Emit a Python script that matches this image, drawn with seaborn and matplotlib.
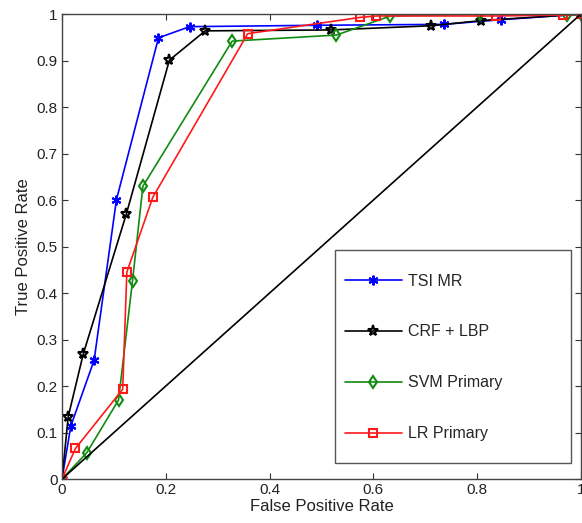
import matplotlib
matplotlib.use("Agg")
import matplotlib.pyplot as plt
from matplotlib.patches import Rectangle
import seaborn as sns
import pandas as pd

# ROC curve points (false positive rate, true positive rate) per method
tsi_fpr = [0.0, 0.017, 0.062, 0.105, 0.186, 0.246, 0.492, 0.736, 0.846, 1.0]
tsi_tpr = [0.0, 0.114, 0.256, 0.601, 0.949, 0.973, 0.976, 0.978, 0.988, 1.0]

crf_fpr = [0.0, 0.012, 0.041, 0.124, 0.207, 0.276, 0.519, 0.712, 0.807, 1.0]
crf_tpr = [0.0, 0.134, 0.269, 0.570, 0.901, 0.964, 0.966, 0.975, 0.986, 1.0]

svm_fpr = [0.0, 0.048, 0.109, 0.136, 0.156, 0.328, 0.529, 0.633, 0.805, 0.974, 1.0]
svm_tpr = [0.0, 0.057, 0.170, 0.427, 0.630, 0.942, 0.955, 0.996, 1.0, 0.998, 1.0]

lr_fpr = [0.0, 0.026, 0.117, 0.125, 0.175, 0.358, 0.575, 0.606, 0.836, 0.965, 1.0]
lr_tpr = [0.0, 0.066, 0.193, 0.445, 0.606, 0.958, 0.993, 0.996, 0.996, 0.998, 1.0]

labels = ["TSI MR", "CRF + LBP", "SVM Primary", "LR Primary"]
colors = ["#0000ff", "#000000", "#118a11", "#ff1a1a"]
# asterisk, hollow pentagram, hollow diamond, hollow square
markers = [(6, 2, 0), "*", "d", "s"]
marker_sizes = [7, 8, 6, 6]

sns.set_style("ticks")
plt.rcParams["font.family"] = ["Liberation Sans", "DejaVu Sans"]
plt.rcParams["xtick.direction"] = "in"
plt.rcParams["ytick.direction"] = "in"

fig = plt.figure(figsize=(5.82, 5.23), dpi=100)
ax = fig.add_axes([0.1065, 0.084, 0.8915, 0.889])

series = [(tsi_fpr, tsi_tpr), (crf_fpr, crf_tpr), (svm_fpr, svm_tpr), (lr_fpr, lr_tpr)]
for (fx, ty), lab, col, mk, ms in zip(series, labels, colors, markers, marker_sizes):
    df = pd.DataFrame({"fpr": fx, "tpr": ty})
    sns.lineplot(data=df, x="fpr", y="tpr", ax=ax, sort=False, estimator=None,
                 color=col, linewidth=1.2, marker=mk, markersize=ms,
                 markerfacecolor="none", markeredgecolor=col,
                 markeredgewidth=1.5, label=lab)

# chance line
sns.lineplot(x=[0, 1], y=[0, 1], ax=ax, color="black", linewidth=1.2, legend=False)

ax.set_xlim(0, 1)
ax.set_ylim(0, 1)
ax.set_xticks([0, 0.2, 0.4, 0.6, 0.8, 1])
ax.set_xticklabels(["0", "0.2", "0.4", "0.6", "0.8", "1"])
ax.set_yticks([i / 10 for i in range(11)])
ax.set_yticklabels(["0"] + [f"{i/10:.1f}" for i in range(1, 10)] + ["1"])
ax.tick_params(axis="both", labelsize=11, length=4, width=0.8, color="#333333",
               labelcolor="#222222", top=True, right=True, pad=3)
for s in ax.spines.values():
    s.set_color("#444444")
    s.set_linewidth(1.0)
ax.set_xlabel("False Positive Rate", fontsize=12, labelpad=1, color="#222222")
ax.set_ylabel("True Positive Rate", fontsize=12, labelpad=4, color="#222222")

# legend box drawn separately so the entries can sit with generous padding
ax.add_patch(Rectangle((0.526, 0.034), 0.455, 0.458, transform=ax.transAxes,
                       facecolor="white", edgecolor="#555555", linewidth=1.0,
                       zorder=4))
handles, labs = ax.get_legend_handles_labels()
leg = ax.legend(handles[:4], labs[:4], loc="upper left",
                bbox_to_anchor=(0.545, 0.442), frameon=False,
                fontsize=11.5, handlelength=3.56, handletextpad=0.4,
                labelspacing=2.25, borderpad=0, borderaxespad=0)
leg.set_zorder(5)

fig.savefig("out.png", dpi=100)
